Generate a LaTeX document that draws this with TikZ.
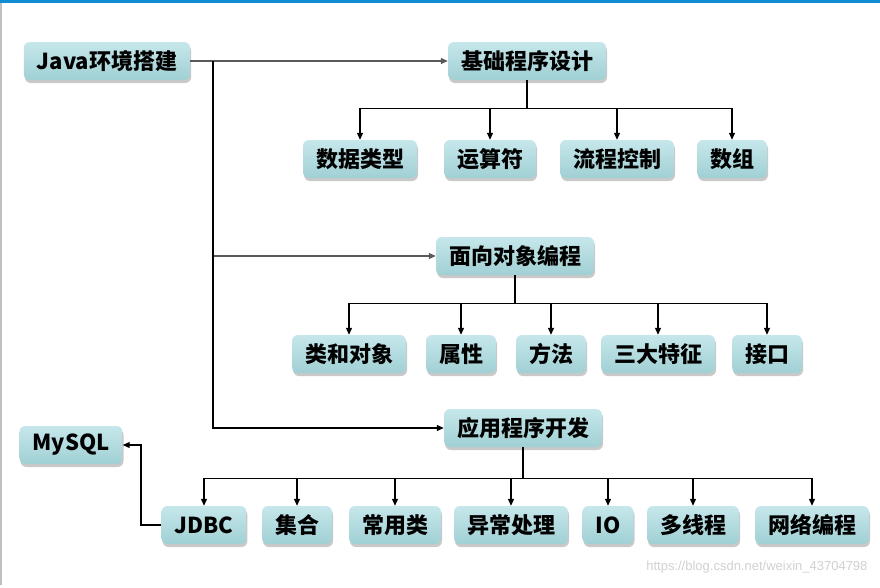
\documentclass[tikz,border=0pt]{standalone}
\usepackage{fontspec}
\setmainfont{Noto Sans CJK SC}
\newfontfamily\wmfont{Liberation Sans}
\usetikzlibrary{arrows.meta,shadows}
\definecolor{boxtop}{RGB}{198,231,235}
\definecolor{boxbot}{RGB}{160,208,212}
\definecolor{topline}{RGB}{16,140,210}
\tikzset{
  tbox/.style={rounded corners=6pt, top color=boxtop, bottom color=boxbot, draw=none,
    minimum height=38pt, inner xsep=13pt, inner ysep=0pt,
    font=\fontsize{22}{26}\selectfont\bfseries,
    drop shadow={shadow xshift=1pt, shadow yshift=-3pt, opacity=0.35, fill=black!60}},
  link/.style={line width=1.1pt, draw=black},
  glink/.style={line width=1.1pt, draw=black!65},
  arr/.style={-{Triangle[length=7pt,width=6pt]}},
}
\begin{document}
\begin{tikzpicture}[x=1pt,y=-1pt]
\useasboundingbox (0,0) rectangle (880,587);
\fill[white] (0,0) rectangle (880,587);
\fill[topline] (0,0) rectangle (880,2.5);
\fill[black!25] (0,2.5) rectangle (1.5,585);

\node[tbox] (java) at (107,61) {Java环境搭建};
\node[tbox] (jc) at (527,61) {基础程序设计};
\node[tbox] (sj) at (360,159) {数据类型};
\node[tbox] (ys) at (490,159) {运算符};
\node[tbox] (lc) at (617,159) {流程控制};
\node[tbox] (sz) at (732,159) {数组};

\node[tbox] (mx) at (515,256) {面向对象编程};
\node[tbox] (ld) at (349,354) {类和对象};
\node[tbox] (sx) at (461,354) {属性};
\node[tbox] (ff) at (551,354) {方法};
\node[tbox] (sd) at (658,354) {三大特征};
\node[tbox] (jk) at (767,354) {接口};

\node[tbox] (yy) at (523,428) {应用程序开发};
\node[tbox] (my) at (71,445) {MySQL};
\node[tbox] (jd) at (204,525) {JDBC};
\node[tbox] (jh) at (297,525) {集合};
\node[tbox] (cy) at (395,525) {常用类};
\node[tbox] (yc) at (511,525) {异常处理};
\node[tbox] (io) at (608,525) {IO};
\node[tbox] (dx) at (693,525) {多线程};
\node[tbox] (wl) at (812,525) {网络编程};

% trunk
\coordinate (t) at (213,61);
\draw[glink,arr] (java.east) -- (jc.west);
\draw[link] (t) -- (213,428);
\draw[glink,arr] (t) |- (mx.west);
\draw[link,arr] (t) |- (yy.west);

% basic
\draw[link] (jc.south) -- ++(0,28) coordinate (b1);
\foreach \c in {sj,ys,lc,sz} \draw[link,arr] (b1) -| (\c.north);
% oop
\draw[link] (mx.south) -- ++(0,28) coordinate (b2);
\foreach \c in {ld,sx,ff,sd,jk} \draw[link,arr] (b2) -| (\c.north);
% app
\draw[link] (yy.south) -- ++(0,31) coordinate (b3);
\foreach \c in {jd,jh,cy,yc,io,dx,wl} \draw[link,arr] (b3) -| (\c.north);

% jdbc -> mysql
\coordinate (m1) at (141,525);
\draw[link,arr] (jd.west) -- (m1) |- (my.east);

\node[font=\wmfont\fontsize{13}{15}\selectfont, text=black!18, anchor=east] (wm) at (871,567) {https://blog.csdn.net/weixin\_43704798};
\end{tikzpicture}
\end{document}
